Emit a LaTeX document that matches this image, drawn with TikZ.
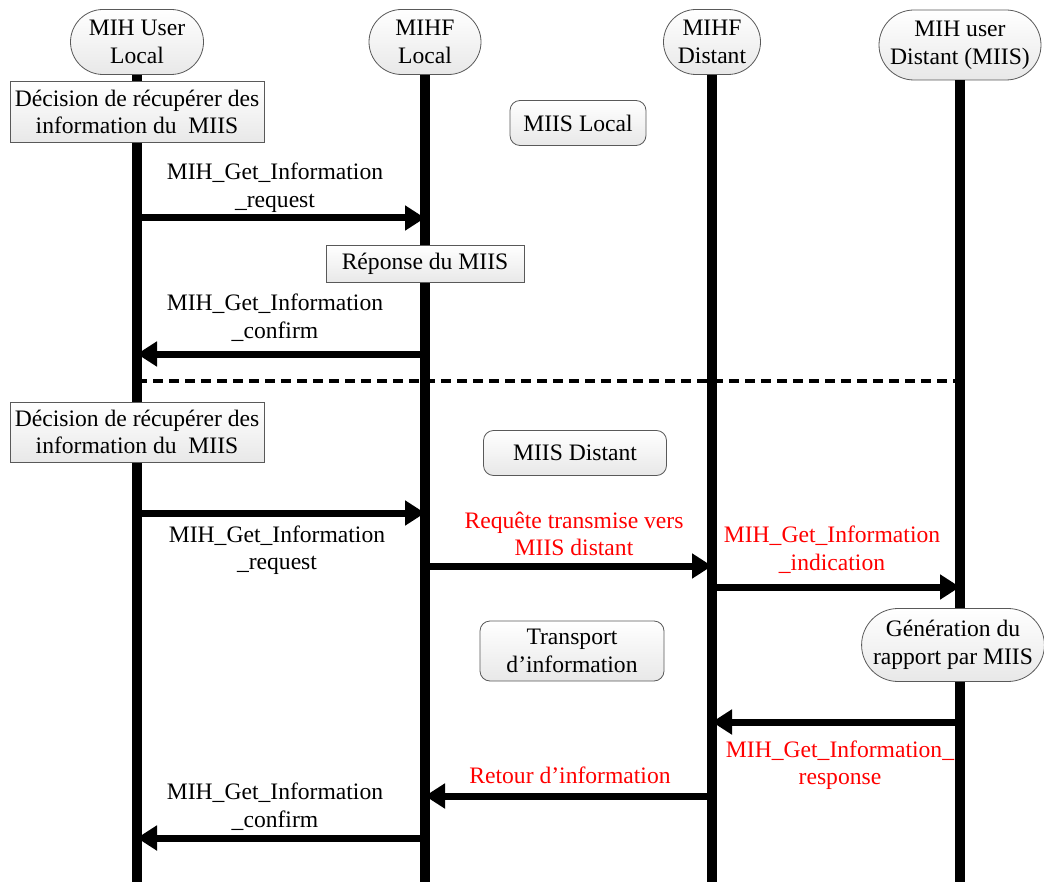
\documentclass[tikz,border=0pt]{standalone}
\usepackage{fontspec}
\setmainfont{Liberation Serif}
\usetikzlibrary{shapes.misc,arrows.meta}

\tikzset{
  head/.style={rounded rectangle, draw=black!65, thin, top color=white, bottom color=black!9,
    align=center, inner sep=1pt},
  step box/.style={rectangle, draw=black!65, thin, top color=white, bottom color=black!9,
    align=center, inner sep=1pt},
  state/.style={rectangle, rounded corners=5pt, draw=black!65, thin, top color=white,
    bottom color=black!9, align=center, inner sep=1pt},
  life/.style={line width=5pt},
  msg/.style={line width=3.5pt, -{Triangle[length=10pt,width=12pt]}},
  lbl/.style={align=center, inner sep=0pt},
  red lbl/.style={lbl, text=red}
}

\begin{document}
\begin{tikzpicture}[x=0.5pt,y=-0.5pt,font=\fontsize{11.8}{13.8}\selectfont]
		\useasboundingbox (0,0) rectangle (1044,882);
		% en-tetes
		\node[head, minimum width=68.5pt, minimum height=32.5pt] (hUser) at (137,42) {MIH User\\Local};
		\node[head, minimum width=58pt, minimum height=32.5pt] (hMihfL) at (425,42) {MIHF\\Local};
		\node[head, minimum width=50.5pt, minimum height=32.5pt] (hMihfD) at (712,42) {MIHF\\Distant};
		\node[head, minimum width=83pt, minimum height=35pt] (hUserD) at (960,45) {MIH user\\Distant (MIIS)};
		% lignes de vie
		\coordinate (endUser) at (137,882);
		\coordinate (endMihfL) at (425,882);
		\coordinate (endMihfD) at (712,882);
		\coordinate (endUserD) at (960,882);
		\draw[life] (hUser.south) -- (endUser);
		\draw[life] (hMihfL.south) -- (endMihfL);
		\draw[life] (hMihfD.south) -- (endMihfD);
		\draw[life] (hUserD.south) -- (endUserD);
		% MIIS local
		\node[step box, minimum width=127pt, minimum height=30.5pt] (dec1) at (137,112) {Décision de récupérer des\\information du~ MIIS};
		\node[state, minimum width=68pt, minimum height=22.5pt] (stLocal) at (578,123) {MIIS Local};
		\coordinate (u1) at (137,218); \coordinate (l1) at (425,218);
		\draw[msg] (u1) -- (l1);
		\node[lbl] (m1) at (275,188) {MIH\_Get\_Information\\\_request};
		\node[step box, minimum width=99pt, minimum height=18.5pt] (rep) at (425,264) {Réponse du MIIS};
		\coordinate (l2) at (425,354); \coordinate (u2) at (137,354);
		\draw[msg] (l2) -- (u2);
		\node[lbl] (m2) at (275,318) {MIH\_Get\_Information\\\_confirm};
		% separation
		\coordinate (sepA) at (137,381); \coordinate (sepB) at (960,381);
		\draw[line width=2pt, dash pattern=on 5pt off 3pt] (sepA) -- (sepB);
		% MIIS distant
		\node[step box, minimum width=127pt, minimum height=30pt] (dec2) at (137,432) {Décision de récupérer des\\information du~ MIIS};
		\node[state, minimum width=91.5pt, minimum height=22.5pt] (stDist) at (575,453) {MIIS Distant};
		\coordinate (u3) at (137,513); \coordinate (l3) at (425,513);
		\draw[msg] (u3) -- (l3);
		\node[lbl] (m3) at (277,550) {MIH\_Get\_Information\\\_request};
		\coordinate (l4) at (425,566); \coordinate (d4) at (712,566);
		\draw[msg] (l4) -- (d4);
		\node[red lbl] (m4) at (574,534) {Requête transmise vers\\MIIS distant};
		\coordinate (d5) at (712,587); \coordinate (r5) at (960,587);
		\draw[msg] (d5) -- (r5);
		\node[red lbl] (m5) at (832,550) {MIH\_Get\_Information\\\_indication};
		\node[state, minimum width=92pt, minimum height=30pt] (transp) at (572,651) {Transport\\d’information};
		\node[head, minimum width=91pt, minimum height=36.5pt] (gen) at (953,645) {Génération du\\rapport par MIIS};
		\coordinate (r6) at (960,722); \coordinate (d6) at (712,722);
		\draw[msg] (r6) -- (d6);
		\node[red lbl] (m6) at (840,765) {MIH\_Get\_Information\_\\response};
		\coordinate (d7) at (712,796); \coordinate (l7) at (425,796);
		\draw[msg] (d7) -- (l7);
		\node[red lbl] (m7) at (570,775) {Retour d’information};
		\coordinate (l8) at (425,838); \coordinate (u8) at (137,838);
		\draw[msg] (l8) -- (u8);
		\node[lbl] (m8) at (275,807) {MIH\_Get\_Information\\\_confirm};
\end{tikzpicture}
\end{document}
